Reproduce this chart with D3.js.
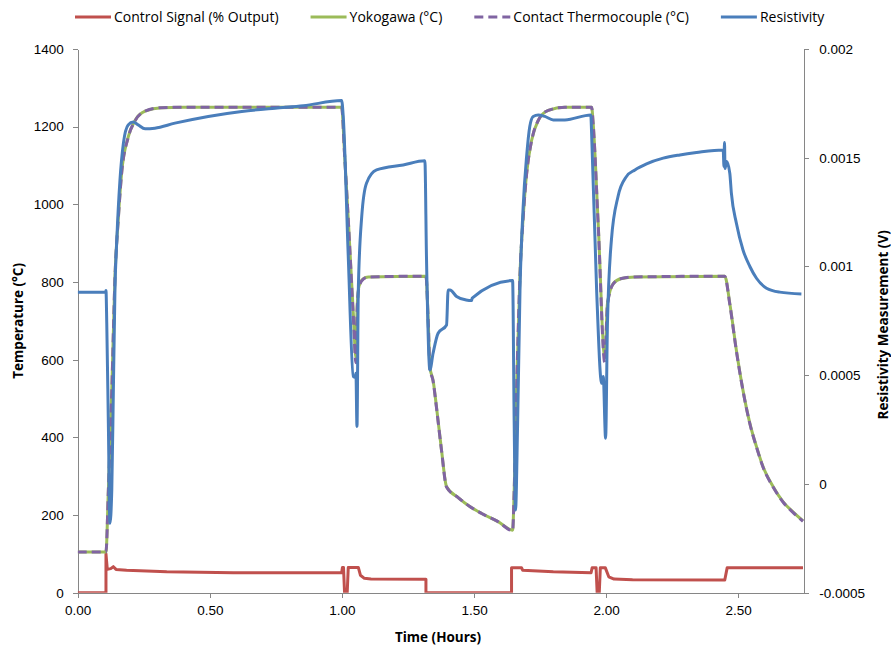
<!DOCTYPE html>
<html>
<head>
<meta charset="utf-8">
<script src="https://cdn.jsdelivr.net/npm/d3@7"></script>
<style>
  html, body { margin: 0; padding: 0; background: #fff; }
  svg { display: block; font-family: "Open Sans", Lato, sans-serif; }
  .axis path, .axis line { stroke: #868686; stroke-width: 1; shape-rendering: crispEdges; }
  .axis text { fill: #000; font-size: 13.5px; }
  .title { font-size: 13.5px; font-weight: bold; fill: #000; }
  .legend text { font-size: 14px; fill: #000; }
</style>
</head>
<body>
<svg id="chart" width="891" height="648"></svg>
<script>
// Series names and colours
const seriesNames = ["Control Signal (% Output)", "Yokogawa (\u00B0C)", "Contact Thermocouple (\u00B0C)", "Resistivity"];
const seriesColors = ["#C0504D", "#9BBB59", "#8064A2", "#4A7EBB"];

// Axis ticks
const timeTicks = [0, 0.5, 1.0, 1.5, 2.0, 2.5];
const tempTicks = [0, 200, 400, 600, 800, 1000, 1200, 1400];
const resTicks = [-0.0005, 0, 0.0005, 0.001, 0.0015, 0.002];
const resTickLabels = ["-0.0005", "0", "0.0005", "0.001", "0.0015", "0.002"];

// Control signal (% output), hours
const controlTime = [0, 0.107, 0.107, 0.112, 0.125, 0.135, 0.145, 0.185, 0.337, 0.589, 0.999, 1.002, 1.006, 1.010, 1.020, 1.024, 1.062, 1.070, 1.085, 1.110, 1.318, 1.318,
  1.642, 1.642, 1.680, 1.684, 1.800, 1.943, 1.947, 1.962, 1.966, 1.974, 1.978, 1.997, 2.010, 2.030, 2.100, 2.449, 2.458, 2.745];
const controlSignal = [0, 0, 100, 60, 62, 67, 60, 58, 54, 51.5, 51.5, 65, 65, 0, 0, 65, 65, 45, 37, 35, 34.5, 0,
  0, 64, 64, 58, 54, 51.5, 64, 64, 0, 0, 64, 64, 41, 35, 33.5, 32.7, 64, 64];

// Furnace temperatures (deg C), hours
const tempTime = [0, 0.107, 0.116, 0.129, 0.141, 0.154, 0.166, 0.191, 0.217, 0.255, 0.318, 0.400, 0.999,
  1.010, 1.025, 1.043, 1.053, 1.058, 1.065, 1.080, 1.100, 1.318, 1.327, 1.333, 1.345, 1.358, 1.377, 1.396,
  1.440, 1.484, 1.529, 1.591, 1.646, 1.652, 1.661, 1.674, 1.686, 1.699, 1.718, 1.743, 1.781, 1.844, 1.945,
  1.951, 1.970, 1.995, 2.005, 2.027, 2.058, 2.109, 2.449, 2.468, 2.493, 2.518, 2.544, 2.569, 2.594, 2.632,
  2.670, 2.707, 2.745];
const yokogawa = [105, 105, 264, 521, 813, 967, 1079, 1173, 1216, 1240, 1249, 1250, 1250,
  1130, 950, 720, 605, 740, 790, 808, 813, 815, 693, 581, 547, 478, 367, 273,
  245, 222, 204, 183, 161, 264, 521, 822, 967, 1079, 1165, 1216, 1242, 1250, 1250,
  1208, 950, 605, 745, 796, 809, 813, 815, 745, 624, 521, 436, 376, 324, 273,
  234, 208, 185];
const thermocouple = [105, 105, 262, 518, 810, 965, 1078, 1172, 1215, 1240, 1249, 1250, 1250,
  1128, 948, 712, 592, 735, 788, 807, 813, 815, 690, 578, 545, 476, 366, 272,
  245, 222, 204, 183, 160, 260, 518, 820, 965, 1078, 1164, 1216, 1242, 1250, 1250,
  1206, 946, 592, 742, 795, 809, 813, 815, 743, 622, 520, 435, 375, 323, 272,
  233, 207, 184];

// Resistivity measurement (V), hours
const resTime = [0, 0.106, 0.107, 0.110, 0.116, 0.122, 0.129, 0.135, 0.141, 0.148, 0.160, 0.173, 0.191, 0.210,
  0.229, 0.255, 0.292, 0.368, 0.494, 0.621, 0.747, 0.854, 0.999, 1.005, 1.024, 1.043, 1.050, 1.053, 1.057,
  1.062, 1.075, 1.093, 1.131, 1.232, 1.314, 1.320, 1.333, 1.345, 1.364, 1.396, 1.402, 1.409, 1.434, 1.470,
  1.491, 1.493, 1.646, 1.652, 1.657, 1.665, 1.674, 1.686, 1.699, 1.711, 1.724, 1.743, 1.768, 1.800, 1.844,
  1.942, 1.945, 1.964, 1.983, 1.989, 1.998, 2.005, 2.020, 2.045, 2.077, 2.109, 2.153, 2.216, 2.279, 2.342,
  2.443, 2.446, 2.448, 2.450, 2.456, 2.468, 2.474, 2.493, 2.518, 2.544, 2.569, 2.607, 2.657, 2.739];
const resistivity = [0.000882, 0.000882, 0.000890, 0.000739, 0.000279, -0.000181, -0.000028, 0.000432, 0.000892, 0.001122, 0.001398, 0.001567, 0.001651, 0.001664,
  0.001651, 0.001633, 0.001636, 0.001659, 0.001690, 0.001713, 0.001728, 0.001739, 0.001763, 0.001690, 0.001046, 0.000494, 0.000490, 0.000509, 0.000264,
  0.000892, 0.001230, 0.001383, 0.001444, 0.001467, 0.001486, 0.001046, 0.000524, 0.000601, 0.000693, 0.000731, 0.000892, 0.000892, 0.000862, 0.000846,
  0.000843, 0.000855, 0.000935, 0.000279, -0.000120, 0.000279, 0.000892, 0.001276, 0.001506, 0.001644, 0.001690, 0.001697, 0.001690, 0.001674, 0.001674,
  0.001697, 0.001613, 0.000892, 0.000463, 0.000494, 0.000210, 0.000739, 0.001122, 0.001322, 0.001414, 0.001444, 0.001472, 0.001498, 0.001513, 0.001524,
  0.001536, 0.001460, 0.001570, 0.001450, 0.001483, 0.001429, 0.001337, 0.001199, 0.001076, 0.001000, 0.000946, 0.000900, 0.000882, 0.000874];

const svg = d3.select("#chart");

const plot = { left: 77.7, right: 804.3, top: 49, bottom: 592.7 };

const x = d3.scaleLinear().domain([0, 2.75]).range([plot.left, plot.right]);
const yT = d3.scaleLinear().domain([0, 1400]).range([plot.bottom, plot.top]);
const yR = d3.scaleLinear().domain([-0.0005, 0.002]).range([plot.bottom, plot.top]);

// Axes
svg.append("g").attr("class", "axis")
  .attr("transform", `translate(0,${plot.bottom})`)
  .call(d3.axisBottom(x).tickValues(timeTicks).tickFormat(d3.format(".2f"))
    .tickSizeInner(5).tickSizeOuter(0).tickPadding(8));

svg.append("g").attr("class", "axis")
  .attr("transform", `translate(${plot.left},0)`)
  .call(d3.axisLeft(yT).tickValues(tempTicks).tickFormat(d3.format("d"))
    .tickSizeInner(5).tickSizeOuter(0).tickPadding(9));

svg.append("g").attr("class", "axis")
  .attr("transform", `translate(${plot.right},0)`)
  .call(d3.axisRight(yR).tickValues(resTicks).tickFormat((d, i) => resTickLabels[i])
    .tickSizeInner(5).tickSizeOuter(0).tickPadding(10));

// Axis titles
svg.append("text").attr("class", "title")
  .attr("x", (plot.left + plot.right) / 2 - 3).attr("y", 642)
  .attr("text-anchor", "middle").text("Time (Hours)");

svg.append("text").attr("class", "title")
  .attr("transform", `translate(23,${(plot.top + plot.bottom) / 2}) rotate(-90)`)
  .attr("text-anchor", "middle").text("Temperature (\u00B0C)");

svg.append("text").attr("class", "title")
  .attr("transform", `translate(888,${(plot.top + plot.bottom) / 2 + 4}) rotate(-90)`)
  .attr("text-anchor", "middle").text("Resistivity Measurement (V)");

// Lines
svg.append("clipPath").attr("id", "plotclip").append("rect")
  .attr("x", plot.left).attr("y", plot.top - 5)
  .attr("width", plot.right - plot.left).attr("height", plot.bottom - plot.top + 5);

const smooth = d3.curveMonotoneX;
const lineT = (times, curve) => d3.line().curve(curve).x((d, i) => x(times[i])).y(d => yT(d));
const lineR = d3.line().curve(smooth).x((d, i) => x(resTime[i])).y(d => yR(d));

const g = svg.append("g").attr("clip-path", "url(#plotclip)");

g.append("path").datum(controlSignal)
  .attr("d", lineT(controlTime, d3.curveLinear)).attr("fill", "none")
  .attr("stroke", seriesColors[0]).attr("stroke-width", 3).attr("stroke-linejoin", "round");

g.append("path").datum(yokogawa)
  .attr("d", lineT(tempTime, smooth)).attr("fill", "none")
  .attr("stroke", seriesColors[1]).attr("stroke-width", 3).attr("stroke-linejoin", "round");

g.append("path").datum(thermocouple)
  .attr("d", lineT(tempTime, smooth)).attr("fill", "none")
  .attr("stroke", seriesColors[2]).attr("stroke-width", 3).attr("stroke-dasharray", "9,5")
  .attr("stroke-linejoin", "round");

g.append("path").datum(resistivity)
  .attr("d", lineR).attr("fill", "none")
  .attr("stroke", seriesColors[3]).attr("stroke-width", 3).attr("stroke-linejoin", "round");

// Legend
const legend = svg.append("g").attr("class", "legend");
let lx = 75;
seriesNames.forEach((name, i) => {
  const item = legend.append("g");
  item.append("line")
    .attr("x1", lx).attr("x2", lx + 36).attr("y1", 17).attr("y2", 17)
    .attr("stroke", seriesColors[i]).attr("stroke-width", 3)
    .attr("stroke-dasharray", i === 2 ? "9,5" : null);
  const t = item.append("text").attr("x", lx + 39).attr("y", 17)
    .attr("dy", "0.35em").text(name);
  lx += 39 + t.node().getComputedTextLength() + 32;
});
</script>
</body>
</html>
